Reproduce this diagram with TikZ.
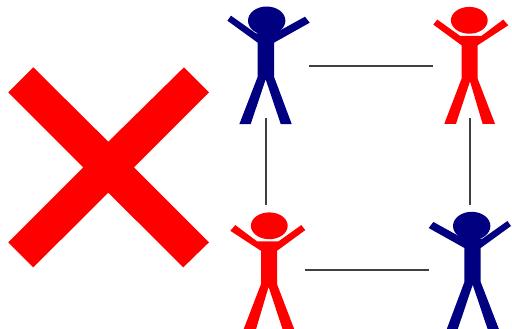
\documentclass[tikz,border=0pt]{standalone}
\usepackage{xcolor}
\usepackage{tikz}
\usetikzlibrary{positioning}
\definecolor{navyfig}{RGB}{0,0,128}
\definecolor{redfig}{RGB}{255,0,0}
\definecolor{linkgray}{RGB}{64,64,64}
\tikzset{
  personbox/.style={inner sep=0pt, minimum width=#1*0.75pt},
  personbox/.default=80,
  link/.style={draw=linkgray, line width=1.5pt},
  bluefig/.pic={
    \fill[navyfig] (0,0) ellipse (18.7 and 14.2);
    \fill[navyfig] (-35.7,-5) -- (-10.7,12.7) -- (12,10.5) -- (38.3,-4) -- (43,2) -- (7.3,22) -- (7.3,56)
      -- (25,103.3) -- (14,103.3) -- (-1,58.7) -- (-16,103.3) -- (-27.3,103.3) -- (-9,56) -- (-9,22) -- (-39.3,0) -- cycle;
  },
  redfig/.pic={
    \fill[redfig] (0,0) ellipse (18.4 and 13.4);
    \fill[redfig] (-32,-0.7) -- (-9.3,15.5) -- (12.3,15.5) -- (34,-0.7) -- (39,5) -- (8.3,25) -- (8.3,58.3)
      -- (25.7,103.5) -- (13.3,103.5) -- (0.7,61) -- (-13.3,103.5) -- (-25,103.5) -- (-7.7,58.3) -- (-7.7,25) -- (-36,4.3) -- cycle;
  }
}
\begin{document}
\begin{tikzpicture}[x=0.75pt,y=-0.75pt]
\useasboundingbox (0,0) rectangle (512,329);

% cross
\fill[redfig] (33.3,67.3) -- (108.3,141.7) -- (184,67.3) -- (209,92.3) -- (134,167.3) -- (209,242.3)
  -- (183.3,267.3) -- (108.3,192.7) -- (33.3,267.3) -- (8.3,242.3) -- (83.3,167.3) -- (8.3,92.3) -- cycle;

% people
\pic at (266.7,20.7) {bluefig};
\pic at (469.3,20.3) {redfig};
\pic[xscale=-1] at (269.3,225.8) {redfig};
\pic[xscale=-1] at (471.7,226) {bluefig};

\node[personbox=86, minimum height=78.75pt] (topleft) at (266,65.5) {};
\node[personbox=74, minimum height=78pt] (topright) at (470,65.5) {};
\node[personbox=78, minimum height=96.75pt] (bottomleft) at (266,269.5) {};
\node[personbox=82, minimum height=96.75pt] (bottomright) at (470,269.5) {};

\draw[link] (topleft) -- (topright);
\draw[link] (bottomleft) -- (bottomright);
\draw[link] (topleft) -- (bottomleft);
\draw[link] (topright) -- (bottomright);
\end{tikzpicture}
\end{document}
